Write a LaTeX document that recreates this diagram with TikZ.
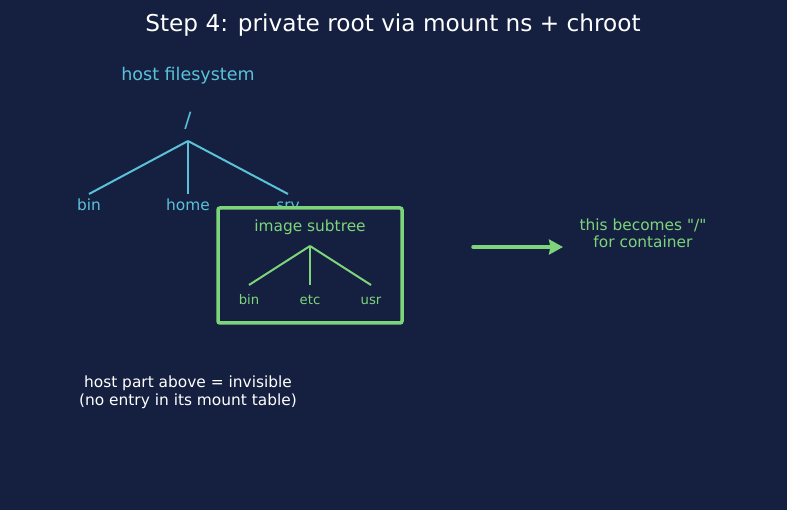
\documentclass[tikz,border=0pt]{standalone}
\usepackage{fontspec}
\setmainfont{DejaVu Sans}
\newfontfamily\plainquote{DejaVu Sans}
\usetikzlibrary{arrows.meta}
\definecolor{bgnavy}{HTML}{152040}
\definecolor{hostcyan}{HTML}{5AC1D9}
\definecolor{imggreen}{HTML}{7DD47A}
\tikzset{
  hostline/.style={draw=hostcyan, line width=2pt},
  imgline/.style={draw=imggreen, line width=2pt},
  hostleaf/.style={text=hostcyan, font=\fontsize{15.4}{18}\selectfont, anchor=north,
                   inner sep=2pt, text height=14pt, text depth=4pt},
  imgleaf/.style={text=imggreen, font=\fontsize{13.2}{16}\selectfont, anchor=north,
                  inner sep=2pt, text height=17pt, text depth=3pt},
  note/.style={align=center, font=\fontsize{15.4}{17.5}\selectfont},
}
\begin{document}
\begin{tikzpicture}[x=1pt,y=-1pt]
\fill[bgnavy] (0,0) rectangle (787,510);
\useasboundingbox (0,0) rectangle (787,510);
\node[text=white, font=\fontsize{23.2}{27}\selectfont] (title) at (393,25.5) {Step 4: private root via mount ns + chroot};
% host tree
\node[text=hostcyan, font=\fontsize{17.5}{20}\selectfont] (hostfs) at (188,76) {host filesystem};
\node[text=hostcyan, font=\fontsize{21}{24}\selectfont] (root) at (188,121) {/};
\coordinate (hostjoin) at (188,141);
\foreach \x/\name in {89/bin,188/home,288/srv} {
    \node[hostleaf] (host-\name) at (\x,194) {\name};
    \draw[hostline] (hostjoin) -- (host-\name.north);
}
% image subtree
\node[draw=imggreen, line width=3.5pt, rounded corners=2pt, fill=bgnavy,
      minimum width=184pt, minimum height=115pt] (imgbox) at (310,265.5) {};
\node[text=imggreen, font=\fontsize{15.4}{18}\selectfont] (imgtitle) at (310,227) {image subtree};
\coordinate (imgjoin) at (310,246);
\foreach \x/\name in {249/bin,310/etc,371/usr} {
    \node[imgleaf] (img-\name) at (\x,285) {\name};
    \draw[imgline] (imgjoin) -- (img-\name.north);
}
% result
\node[note, text=imggreen] (becomes) at (643,233.5) {this becomes {\plainquote"/"}\\for container};
\coordinate (arrowstart) at (473,247);
\draw[imggreen, line width=3.5pt, line cap=round, -{Stealth[length=14pt,width=15pt,inset=1.5pt]}] (arrowstart) -- (563,247) coordinate (arrowend);
\node[note, text=white] (hidden) at (188,392.5) {host part above = invisible\\(no entry in its mount table)};
\end{tikzpicture}
\end{document}
